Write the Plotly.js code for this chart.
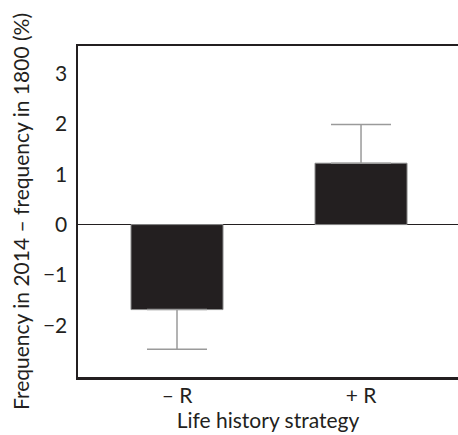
<!DOCTYPE html>
<html>
<head>
<meta charset="utf-8">
<script src="https://cdn.plot.ly/plotly-3.0.1.min.js"></script>
<style>html,body{margin:0;padding:0;background:#fff;}#chart{width:458px;height:435px;}</style>
</head>
<body>
<div id="chart"></div>
<script>
const categories = ["– R", "+ R"];
const values = [-1.69, 1.22];
const errPlus = [0, 0.77];
const errMinus = [0.79, 0];
const yTicks = [-2, -1, 0, 1, 2, 3];

const trace = {
  type: 'bar',
  x: [0, 1],
  y: values,
  width: 0.5,
  marker: {color: '#231f20', line: {color: '#8a8a8a', width: 1}},
  error_y: {
    type: 'data', symmetric: false,
    array: errPlus, arrayminus: errMinus,
    color: '#9a9a9a', thickness: 1.5, width: 30
  },
  hoverinfo: 'skip'
};

const font = {family: 'Lato, "Open Sans", sans-serif', color: '#231f20', size: 21};

const layout = {
  width: 458, height: 435,
  margin: {l: 78, r: 0, t: 46, b: 58},
  paper_bgcolor: '#fff', plot_bgcolor: '#fff',
  showlegend: false,
  font: font,
  xaxis: {
    range: [-0.538, 1.527],
    tickvals: [0, 1], ticktext: categories,
    showline: true, mirror: true, linecolor: '#231f20', linewidth: 2.5,
    showgrid: false, zeroline: false, ticks: '',
    tickfont: font, ticklabelstandoff: -2,
    title: {text: 'Life history strategy', font: font, standoff: 6}
  },
  yaxis: {
    range: [-3.03, 3.55],
    tickvals: yTicks,
    showline: true, mirror: false, linecolor: '#231f20', linewidth: 2.5,
    showgrid: false, zeroline: true, zerolinecolor: '#231f20', zerolinewidth: 1.5,
    ticks: '', ticklabelstandoff: 4,
    tickfont: font,
    title: {text: 'Frequency in 2014 – frequency in 1800 (%)', font: font, standoff: 8}
  }
};

Plotly.newPlot('chart', [trace], layout, {displayModeBar: false, staticPlot: true});
</script>
</body>
</html>
